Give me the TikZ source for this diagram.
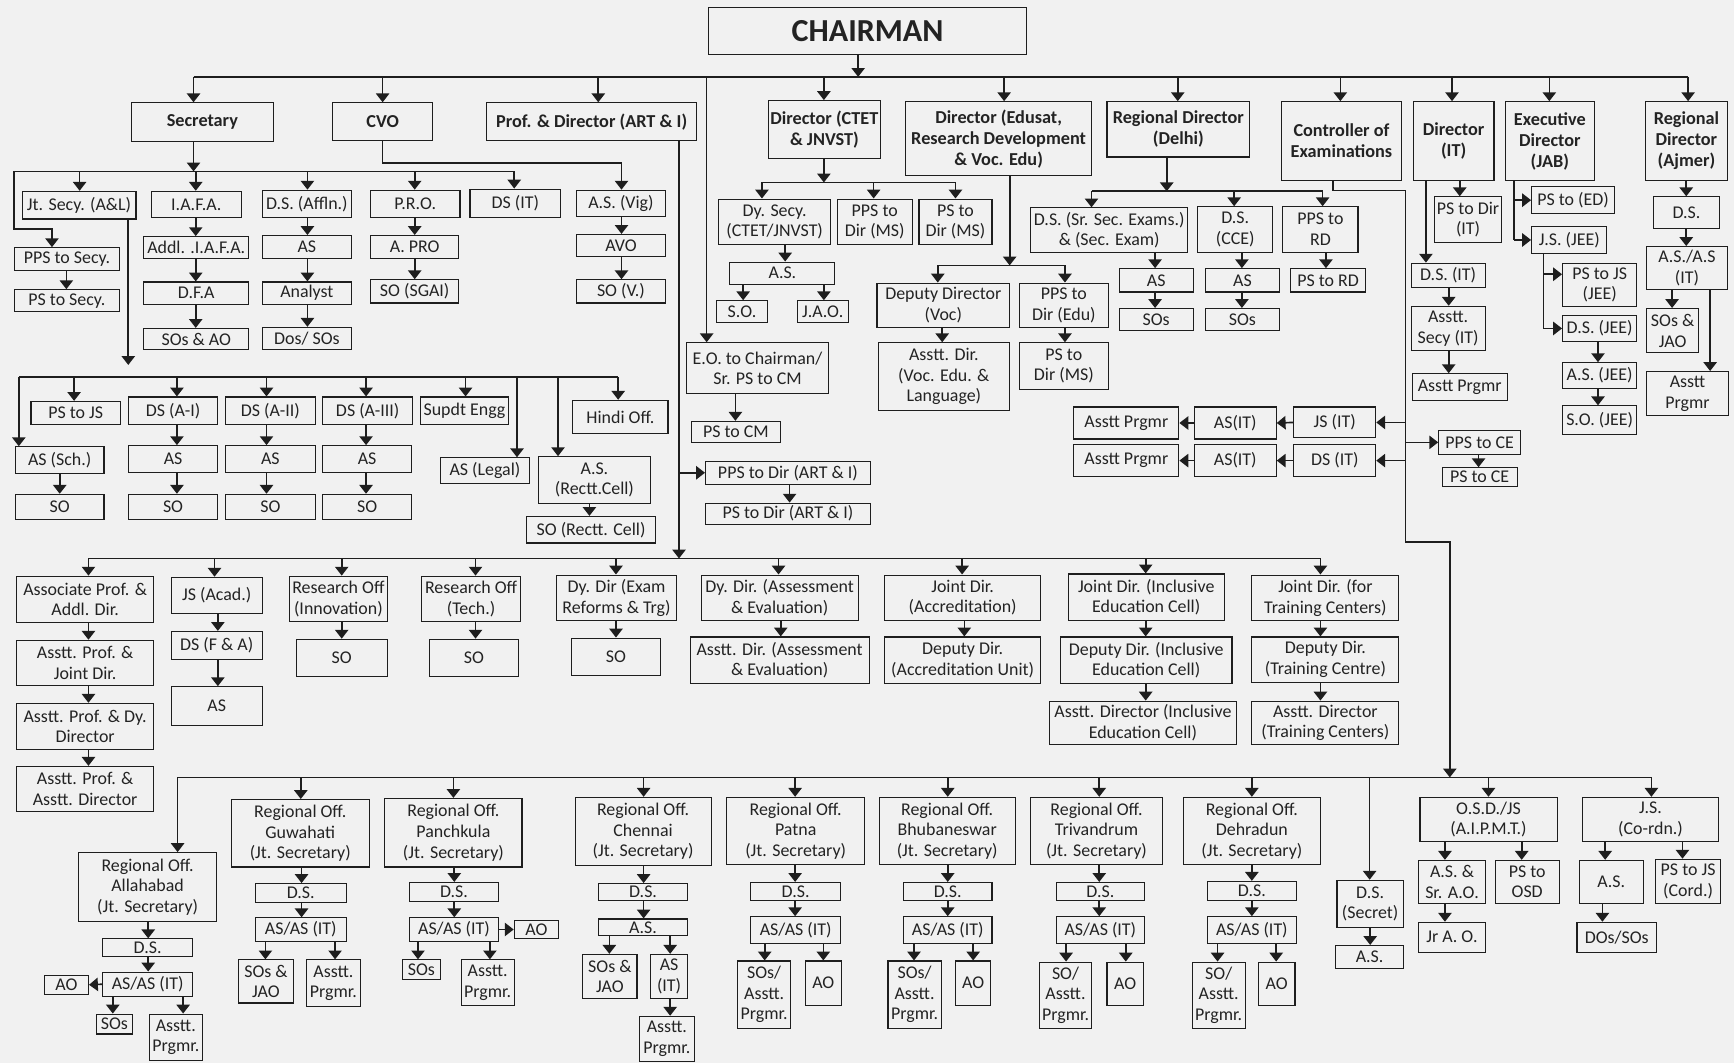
\documentclass[tikz,border=0pt]{standalone}
\usepackage{fontspec}
\setmainfont{Carlito}
\usetikzlibrary{arrows.meta}
\definecolor{bgc}{RGB}{241,241,241}
\definecolor{lc}{RGB}{30,30,30}
\definecolor{tc}{RGB}{35,35,35}
\newcommand\bxn[7][]{\node[bx,#1,minimum width={(#5-#3)*1pt},minimum height={(#6-#4)*1pt}] (#2) at ({(#3+#5)/2},{(#4+#6)/2}) {#7};}
\newcommand\va[3]{\draw[ar] (#1,0 |- #2.south) -- (#1,0 |- #3.north);}
\newcommand\ba[3]{\draw[ar] (#1,#2) -- (#1,0 |- #3.north);}
\begin{document}
\begin{tikzpicture}[x=1pt,y=-1pt,
  ln/.style={line width=1.5pt,draw=lc},
  ar/.style={ln,-{Triangle[width=12pt,length=8pt]}},
  bx/.style={draw=lc,line width=1pt,fill=bgc,align=center,inner xsep=0.5pt,inner ysep=1pt,text=tc,font=\fontsize{16.2}{18.6}\selectfont},
  bb/.style={font=\bfseries\fontsize{16.5}{19}\selectfont}]
\fill[bgc] (0,0) rectangle (1568,961);
\useasboundingbox (0,0) rectangle (1568,961);
% ---------- top level
\bxn[bb,font=\bfseries\fontsize{29}{33}\selectfont]{chair}{641}{7}{928}{49}{CHAIRMAN}
\bxn[bb]{sec}{119}{93}{247}{128}{Secretary}
\bxn[bb]{cvo}{301}{93}{391}{127}{CVO}
\bxn[bb]{prof}{440}{93}{630}{127}{Prof. \& Director (ART \& I)}
\bxn[bb]{ctet}{695}{91}{796}{143}{Director (CTET\\\& JNVST)}
\bxn[bb]{edu}{819}{92}{987}{159}{Director (Edusat,\\Research Development\\\& Voc. Edu)}
\bxn[bb]{rdd}{1001}{92}{1130}{142}{Regional Director\\(Delhi)}
\bxn[bb]{ce}{1159}{92}{1267}{163}{Controller of\\Examinations}
\bxn[bb]{dit}{1278}{92}{1351}{163}{Director\\(IT)}
\bxn[bb]{ed}{1361}{92}{1442}{163}{Executive\\Director\\(JAB)}
\bxn[bb]{rda}{1488}{92}{1562}{163}{Regional\\Director\\(Ajmer)}
% ---------- secretary
\bxn{jts}{20}{173}{123}{198}{Jt. Secy. (A\&L)}
\bxn{iafa}{137}{173}{218}{197}{I.A.F.A.}
\bxn{dsaf}{237}{172}{318}{197}{D.S. (Affln.)}
\bxn{pro}{335}{172}{416}{197}{P.R.O.}
\bxn{dsit1}{425}{171}{507}{197}{DS (IT)}
\bxn{ppss}{13}{224}{108}{245}{PPS to Secy.}
\bxn{pss}{13}{262}{108}{282}{PS to Secy.}
\bxn{addl}{130}{214}{225}{234}{Addl. .I.A.F.A.}
\bxn{dfa}{130}{255}{225}{275}{D.F.A}
\bxn{sosao}{130}{297}{225}{316}{SOs \& AO}
\bxn{as1}{237}{213}{318}{234}{AS}
\bxn{analyst}{237}{255}{318}{275}{Analyst}
\bxn{dos}{237}{296}{318}{316}{Dos/ SOs}
\bxn{apro}{335}{213}{415}{234}{A. PRO}
\bxn{sosgai}{335}{253}{415}{274}{SO (SGAI)}
\bxn{asvig}{521}{172}{602}{196}{A.S. (Vig)}
\bxn{avo}{521}{212}{602}{232}{AVO}
\bxn{sov}{521}{253}{602}{274}{SO (V.)}
% ---------- CTET
\bxn{dysecy}{650}{180}{751}{221}{Dy. Secy.\\(CTET/JNVST)}
\bxn{ppsms1}{757}{180}{825}{221}{PPS to\\Dir (MS)}
\bxn{psms1}{831}{180}{897}{221}{PS to\\Dir (MS)}
\bxn{as2}{660}{237}{755}{257}{A.S.}
\bxn{so2}{648}{272}{694}{292}{S.O.}
\bxn{jao2}{721}{272}{767}{292}{J.A.O.}
% ---------- Edusat
\bxn{ddvoc}{793}{256}{913}{296}{Deputy Director\\(Voc)}
\bxn{ppsedu}{922}{256}{1002}{296}{PPS to\\Dir (Edu)}
\bxn{adv}{794}{310}{913}{371}{Asstt. Dir.\\(Voc. Edu. \&\\Language)}
\bxn{psms2}{922}{310}{1002}{352}{PS to\\Dir (MS)}
% ---------- Delhi
\bxn{dssr}{932}{188}{1074}{228}{D.S. (Sr. Sec. Exams.)\\\& (Sec. Exam)}
\bxn{dscce}{1083}{187}{1151}{228}{D.S.\\(CCE)}
\bxn{ppsrd}{1160}{187}{1228}{228}{PPS to\\RD}
\bxn{as3}{1012}{243}{1079}{264}{AS}
\bxn{sos3}{1012}{279}{1079}{299}{SOs}
\bxn{as4}{1090}{243}{1157}{264}{AS}
\bxn{sos4}{1090}{279}{1157}{299}{SOs}
\bxn{psrd}{1167}{243}{1235}{264}{PS to RD}
% ---------- Director IT
\bxn{psdit}{1297}{178}{1358}{219}{PS to Dir\\(IT)}
\bxn{dsit2}{1276}{238}{1343}{260}{D.S. (IT)}
\bxn{asecit}{1276}{277}{1343}{317}{Asstt.\\Secy (IT)}
\bxn{aprg1}{1277}{338}{1363}{362}{Asstt Prgmr}
% ---------- Exec Director
\bxn{psed}{1385}{169}{1460}{193}{PS to (ED)}
\bxn{jsjee}{1385}{205}{1453}{229}{J.S. (JEE)}
\bxn{psjs}{1413}{238}{1480}{277}{PS to JS\\(JEE)}
\bxn{dsjee}{1413}{285}{1480}{309}{D.S. (JEE)}
\bxn{asjee}{1413}{328}{1480}{351}{A.S. (JEE)}
\bxn{sojee}{1413}{367}{1480}{393}{S.O. (JEE)}
% ---------- Ajmer
\bxn{dsaj}{1495}{178}{1555}{207}{D.S.}
\bxn{asaj}{1489}{223}{1562}{262}{A.S./A.S\\(IT)}
\bxn{sosjao}{1489}{279}{1536}{319}{SOs \&\\JAO}
\bxn{aprg2}{1489}{336}{1563}{376}{Asstt\\Prgmr}
% ---------- Controller
\bxn{jsit}{1170}{368}{1244}{396}{JS (IT)}
\bxn{dsit3}{1170}{402}{1244}{431}{DS (IT)}
\bxn{asit1}{1080}{368}{1154}{397}{AS(IT)}
\bxn{asit2}{1080}{402}{1154}{431}{AS(IT)}
\bxn{aprg3}{971}{368}{1066}{397}{Asstt Prgmr}
\bxn{aprg4}{971}{402}{1066}{431}{Asstt Prgmr}
\bxn{ppsce}{1301}{389}{1375}{411}{PPS to CE}
\bxn{psce}{1304}{423}{1372}{440}{PS to CE}
% ---------- E.O. / Prof
\bxn{eo}{621}{310}{749}{356}{E.O. to Chairman/\\Sr. PS to CM}
\bxn{pscm}{625}{381}{706}{400}{PS to CM}
\bxn{ppsart}{638}{417}{787}{438}{PPS to Dir (ART \& I)}
\bxn{psart}{638}{455}{787}{474}{PS to Dir (ART \& I)}
% ---------- under Jt. Secy
\bxn{psjs1}{28}{363}{109}{384}{PS to JS}
\bxn{dsa1}{116}{359}{197}{384}{DS (A-I)}
\bxn{dsa2}{204}{359}{285}{384}{DS (A-II)}
\bxn{dsa3}{292}{359}{373}{384}{DS (A-III)}
\bxn{supdt}{380}{359}{460}{384}{Supdt Engg}
\bxn{hindi}{518}{362}{604}{392}{Hindi Off.}
\bxn{assch}{14}{404}{94}{428}{AS (Sch.)}
\bxn{asa1}{116}{403}{197}{427}{AS}
\bxn{asa2}{204}{403}{285}{427}{AS}
\bxn{asa3}{292}{403}{372}{427}{AS}
\bxn{sos0}{14}{447}{94}{470}{SO}
\bxn{soa1}{116}{447}{197}{470}{SO}
\bxn{soa2}{204}{447}{285}{470}{SO}
\bxn{soa3}{292}{447}{372}{470}{SO}
\bxn{aslegal}{398}{414}{479}{437}{AS (Legal)}
\bxn{asrc}{487}{413}{588}{455}{A.S.\\(Rectt.Cell)}
\bxn{sorc}{476}{467}{593}{491}{SO (Rectt. Cell)}
% ---------- middle row
\bxn{apad}{15}{521}{139}{563}{Associate Prof. \&\\Addl. Dir.}
\bxn{apjd}{15}{579}{139}{620}{Asstt. Prof. \&\\Joint Dir.}
\bxn{apdd}{15}{636}{139}{678}{Asstt. Prof. \& Dy.\\Director}
\bxn{apad2}{15}{693}{139}{734}{Asstt. Prof. \&\\Asstt. Director}
\bxn{jsacad}{155}{522}{237}{555}{JS (Acad.)}
\bxn{dsfa}{155}{571}{237}{596}{DS (F \& A)}
\bxn{as5}{155}{621}{237}{656}{AS}
\bxn{roi}{262}{521}{350}{562}{Research Off\\(Innovation)}
\bxn{so5}{268}{578}{350}{612}{SO}
\bxn{rot}{381}{521}{471}{562}{Research Off\\(Tech.)}
\bxn{so6}{388}{578}{469}{612}{SO}
\bxn{ddexam}{503}{520}{612}{561}{Dy. Dir (Exam\\Reforms \& Trg)}
\bxn{so7}{517}{577}{597}{611}{SO}
\bxn{ddae}{634}{520}{776}{561}{Dy. Dir. (Assessment\\\& Evaluation)}
\bxn{adae}{624}{576}{786}{618}{Asstt. Dir. (Assessment\\\& Evaluation)}
\bxn{jda}{800}{520}{941}{561}{Joint Dir.\\(Accreditation)}
\bxn{dda}{800}{576}{941}{618}{Deputy Dir.\\(Accreditation Unit)}
\bxn{jdie}{966}{519}{1107}{561}{Joint Dir. (Inclusive\\Education Cell)}
\bxn{ddie}{959}{576}{1114}{618}{Deputy Dir. (Inclusive\\Education Cell)}
\bxn{adie}{949}{634}{1118}{673}{Asstt. Director (Inclusive\\Education Cell)}
\bxn{jdtc}{1132}{520}{1265}{561}{Joint Dir. (for\\Training Centers)}
\bxn{ddtc}{1132}{576}{1265}{617}{Deputy Dir.\\(Training Centre)}
\bxn{adtc}{1132}{634}{1265}{673}{Asstt. Director\\(Training Centers)}
% ---------- regional offices
\bxn{roa}{71}{771}{196}{833}{Regional Off.\\Allahabad\\(Jt. Secretary)}
\bxn{dsal}{93}{849}{174}{865}{D.S.}
\bxn{asal}{93}{879}{174}{901}{AS/AS (IT)}
\bxn{aoal}{40}{882}{80}{899}{AO}
\bxn{sosal}{87}{917}{120}{935}{SOs}
\bxn{apal}{135}{917}{183}{959}{Asstt.\\Prgmr.}
\bxn{rog}{209}{723}{334}{784}{Regional Off.\\Guwahati\\(Jt. Secretary)}
\bxn{dsg}{231}{799}{313}{816}{D.S.}
\bxn{asg}{231}{830}{313}{851}{AS/AS (IT)}
\bxn{sosg}{216}{868}{265}{907}{SOs \&\\JAO}
\bxn{apg}{277}{868}{326}{910}{Asstt.\\Prgmr.}
\bxn{rop}{348}{722}{472}{784}{Regional Off.\\Panchkula\\(Jt. Secretary)}
\bxn{dsp}{370}{798}{451}{815}{D.S.}
\bxn{asp}{370}{830}{451}{851}{AS/AS (IT)}
\bxn{aop}{465}{832}{505}{849}{AO}
\bxn{sosp}{364}{868}{398}{886}{SOs}
\bxn{app}{417}{868}{465}{909}{Asstt.\\Prgmr.}
\bxn{roc}{520}{721}{643}{783}{Regional Off.\\Chennai\\(Jt. Secretary)}
\bxn{dsc}{541}{799}{622}{814}{D.S.}
\bxn{asc}{541}{831}{622}{846}{A.S.}
\bxn{sosc}{527}{863}{576}{903}{SOs \&\\JAO}
\bxn{asitc}{588}{863}{622}{903}{AS\\(IT)}
\bxn{apc}{578}{919}{628}{960}{Asstt.\\Prgmr.}
\bxn{ropt}{657}{721}{782}{782}{Regional Off.\\Patna\\(Jt. Secretary)}
\bxn{dspt}{679}{798}{760}{814}{D.S.}
\bxn{aspt}{679}{829}{760}{853}{AS/AS (IT)}
\bxn{sospt}{667}{869}{715}{930}{SOs/\\Asstt.\\Prgmr.}
\bxn{aopt}{728}{869}{761}{909}{AO}
\bxn{rob}{795}{721}{918}{782}{Regional Off.\\Bhubaneswar\\(Jt. Secretary)}
\bxn{dsb}{817}{798}{897}{814}{D.S.}
\bxn{asb}{817}{829}{897}{853}{AS/AS (IT)}
\bxn{sosb}{803}{869}{851}{930}{SOs/\\Asstt.\\Prgmr.}
\bxn{aob}{864}{869}{896}{909}{AO}
\bxn{rotv}{932}{721}{1051}{782}{Regional Off.\\Trivandrum\\(Jt. Secretary)}
\bxn{dst}{955}{798}{1035}{814}{D.S.}
\bxn{ast}{955}{829}{1035}{853}{AS/AS (IT)}
\bxn{sot}{940}{870}{987}{930}{SO/\\Asstt.\\Prgmr.}
\bxn{aot}{1001}{870}{1034}{909}{AO}
\bxn{rod}{1070}{721}{1194}{782}{Regional Off.\\Dehradun\\(Jt. Secretary)}
\bxn{dsd}{1092}{797}{1172}{814}{D.S.}
\bxn{asd}{1092}{829}{1172}{853}{AS/AS (IT)}
\bxn{sod}{1078}{870}{1126}{930}{SO/\\Asstt.\\Prgmr.}
\bxn{aod}{1138}{870}{1171}{909}{AO}
\bxn{dssec}{1209}{796}{1269}{839}{D.S.\\(Secret)}
\bxn{assec}{1208}{855}{1269}{876}{A.S.}
\bxn{osd}{1284}{721}{1408}{761}{O.S.D./JS\\(A.I.P.M.T.)}
\bxn{assr}{1283}{778}{1343}{817}{A.S. \&\\Sr. A.O.}
\bxn{psosd}{1352}{778}{1410}{817}{PS to\\OSD}
\bxn{jrao}{1283}{834}{1343}{861}{Jr A. O.}
\bxn{jscord}{1431}{721}{1554}{761}{J.S.\\(Co-rdn.)}
\bxn{ascord}{1428}{778}{1486}{817}{A.S.}
\bxn{psjscord}{1497}{777}{1556}{817}{PS to JS\\(Cord.)}
\bxn{dosos}{1426}{834}{1498}{861}{DOs/SOs}
% ================= connectors
\draw[ln] (175,69.5) -- (1526.5,69.5);
\draw[ar] (776,0 |- chair.south) -- (776,69.5);
\ba{175}{69.5}{sec} \ba{346}{69.5}{cvo} \ba{541}{69.5}{prof} \ba{745}{69.5}{ctet}
\ba{908}{69.5}{edu} \ba{1065}{69.5}{rdd} \ba{1212}{69.5}{ce} \ba{1313}{69.5}{dit}
\ba{1401}{69.5}{ed} \ba{1526.5}{69.5}{rda} \ba{639}{69.5}{eo}
% secretary
\draw[ar] (175,0 |- sec.south) -- (175,155);
\draw[ln] (12.7,155) -- (465,155);
\ba{72}{155}{jts} \ba{177}{155}{iafa} \ba{278}{155}{dsaf} \ba{375}{155}{pro} \ba{465}{155}{dsit1}
\draw[ar] (12.7,155) -- (12.7,207) -- (47,207) -- (47,0 |- ppss.north);
\va{60}{ppss}{pss}
\va{177}{iafa}{addl} \va{177}{addl}{dfa} \va{177}{dfa}{sosao}
\va{278}{dsaf}{as1} \va{278}{as1}{analyst} \va{278}{analyst}{dos}
\va{375}{pro}{apro} \va{375}{apro}{sosgai}
% CVO
\draw[ar] (346,0 |- cvo.south) -- (346,147.5) -- (562,147.5) -- (562,0 |- asvig.north);
\va{562}{asvig}{avo} \va{562}{avo}{sov}
% Jt secy
\draw[ar] (116,0 |- jts.south) -- (116,330);
\draw[ln] (17,341) -- (559,341);
\ba{17}{341}{assch} \ba{67}{341}{psjs1} \ba{160}{341}{dsa1} \ba{241}{341}{dsa2} \ba{331}{341}{dsa3}
\ba{421}{341}{supdt} \ba{559}{341}{hindi} \ba{467.5}{341}{aslegal} \ba{504.6}{341}{asrc}
\va{54}{assch}{sos0}
\va{160}{dsa1}{asa1} \va{160}{asa1}{soa1}
\va{241}{dsa2}{asa2} \va{241}{asa2}{soa2}
\va{331}{dsa3}{asa3} \va{331}{asa3}{soa3}
\va{533}{asrc}{sorc}
% CTET
\draw[ar] (745,0 |- ctet.south) -- (745,165);
\draw[ln] (689,165) -- (864,165);
\ba{689}{165}{dysecy} \ba{790}{165}{ppsms1} \ba{864}{165}{psms1}
\va{710}{dysecy}{as2} \va{672}{as2}{so2} \va{745}{as2}{jao2}
% Edusat
\draw[ar] (913,0 |- edu.south) -- (913,240);
\draw[ln] (848,240) -- (963,240);
\ba{848}{240}{ddvoc} \ba{963}{240}{ppsedu}
\va{852}{ddvoc}{adv} \va{963}{ppsedu}{psms2}
% Delhi
\draw[ar] (1055,0 |- rdd.south) -- (1055,173);
\draw[ln] (987,173) -- (1196,173);
\ba{987}{173}{dssr} \ba{1116}{173}{dscce} \ba{1196}{173}{ppsrd}
\va{1044.5}{dssr}{as3} \va{1044.5}{as3}{sos3}
\va{1123}{dscce}{as4} \va{1123}{as4}{sos4}
\va{1199}{ppsrd}{psrd}
% Controller
\draw[ar] (1205.5,0 |- ce.south) -- (1205.5,172.4) -- (1271,172.4) -- (1271,490) -- (1311,490) -- (1311,703);
\draw[ar] (1271,0 |- jsit.east) -- (jsit.east);
\draw[ar] (1271,0 |- dsit3.east) -- (dsit3.east);
\draw[ar] (1271,0 |- ppsce.west) -- (ppsce.west);
\draw[ar] (jsit.west) -- (asit1.east);
\draw[ar] (asit1.west) -- (aprg3.east);
\draw[ar] (dsit3.west) -- (asit2.east);
\draw[ar] (asit2.west) -- (aprg4.east);
\va{1337}{ppsce}{psce}
% Director IT
\draw[ar] (1289.4,0 |- dit.south) -- (1289.4,0 |- dsit2.north);
\va{1320}{dit}{psdit}
\va{1310}{dsit2}{asecit} \va{1310}{asecit}{aprg1}
% Exec director
\draw[ln] (1369.3,0 |- ed.south) -- (1369.3,0 |- jsjee.west);
\draw[ar] (1369.3,0 |- psed.west) -- (psed.west);
\draw[ar] (1369.3,0 |- jsjee.west) -- (jsjee.west);
\draw[ln] (1395.6,0 |- jsjee.south) -- (1395.6,297);
\draw[ar] (1395.6,248) -- (psjs.west |- 0,248);
\draw[ar] (1395.6,297) -- (dsjee.west |- 0,297);
\va{1445}{dsjee}{asjee} \va{1445}{asjee}{sojee}
% Ajmer
\va{1524.8}{rda}{dsaj} \va{1524.8}{dsaj}{asaj} \va{1512}{asaj}{sosjao} \va{1546.4}{asaj}{aprg2}
% Prof & Director
\draw[ar] (614,0 |- prof.south) -- (614,505);
\draw[ar] (614,0 |- ppsart.west) -- (ppsart.west);
\va{665}{eo}{pscm} \va{714}{ppsart}{psart}
\draw[ln] (80,505) -- (1194,505);
\ba{80}{505}{apad} \ba{194}{505}{jsacad} \ba{309}{505}{roi} \ba{430}{505}{rot} \ba{557}{505}{ddexam}
\ba{704}{505}{ddae} \ba{870}{505}{jda} \ba{1036}{505}{jdie} \ba{1194}{505}{jdtc}
\va{80}{apad}{apjd} \va{80}{apjd}{apdd} \va{80}{apdd}{apad2}
\va{197}{jsacad}{dsfa} \va{197}{dsfa}{as5}
\va{309}{roi}{so5} \va{430}{rot}{so6} \va{557}{ddexam}{so7}
\va{706}{ddae}{adae} \va{872}{jda}{dda}
\va{1036}{jdie}{ddie} \va{1036}{ddie}{adie}
\va{1194}{jdtc}{ddtc} \va{1194}{ddtc}{adtc}
% regional bus
\draw[ln] (160.6,703) -- (1493.3,703);
\ba{160.6}{703}{roa} \ba{272}{703}{rog} \ba{410}{703}{rop} \ba{582}{703}{roc} \ba{719}{703}{ropt}
\ba{857}{703}{rob} \ba{994}{703}{rotv} \ba{1132}{703}{rod} \ba{1238.5}{703}{dssec}
\ba{1346}{703}{osd} \ba{1493.3}{703}{jscord}
\va{134}{roa}{dsal} \va{134}{dsal}{asal} \va{102}{asal}{sosal} \va{165.6}{asal}{apal}
\draw[ar] (asal.west) -- (aoal.east);
\va{272.7}{rog}{dsg} \va{272.7}{dsg}{asg} \va{240}{asg}{sosg} \va{303}{asg}{apg}
\va{410.8}{rop}{dsp} \va{410.8}{dsp}{asp} \va{378}{asp}{sosp} \va{443}{asp}{app}
\draw[ar] (asp.east) -- (aop.west);
\va{582}{roc}{dsc} \va{582}{dsc}{asc} \va{551}{asc}{sosc} \va{606}{asc}{asitc} \va{606}{asitc}{apc}
\va{719}{ropt}{dspt} \va{719}{dspt}{aspt} \va{691.5}{aspt}{sospt} \va{744.5}{aspt}{aopt}
\va{857}{rob}{dsb} \va{857}{dsb}{asb} \va{826.5}{asb}{sosb} \va{880}{asb}{aob}
\va{994}{rotv}{dst} \va{994}{dst}{ast} \va{964}{ast}{sot} \va{1018}{ast}{aot}
\va{1132}{rod}{dsd} \va{1132}{dsd}{asd} \va{1101}{asd}{sod} \va{1154}{asd}{aod}
\va{1239}{dssec}{assec}
\va{1306.6}{osd}{assr} \va{1376}{osd}{psosd} \va{1306.6}{assr}{jrao}
\va{1451.5}{jscord}{ascord} \va{1521.4}{jscord}{psjscord} \va{1449}{ascord}{dosos}
\end{tikzpicture}
\end{document}
